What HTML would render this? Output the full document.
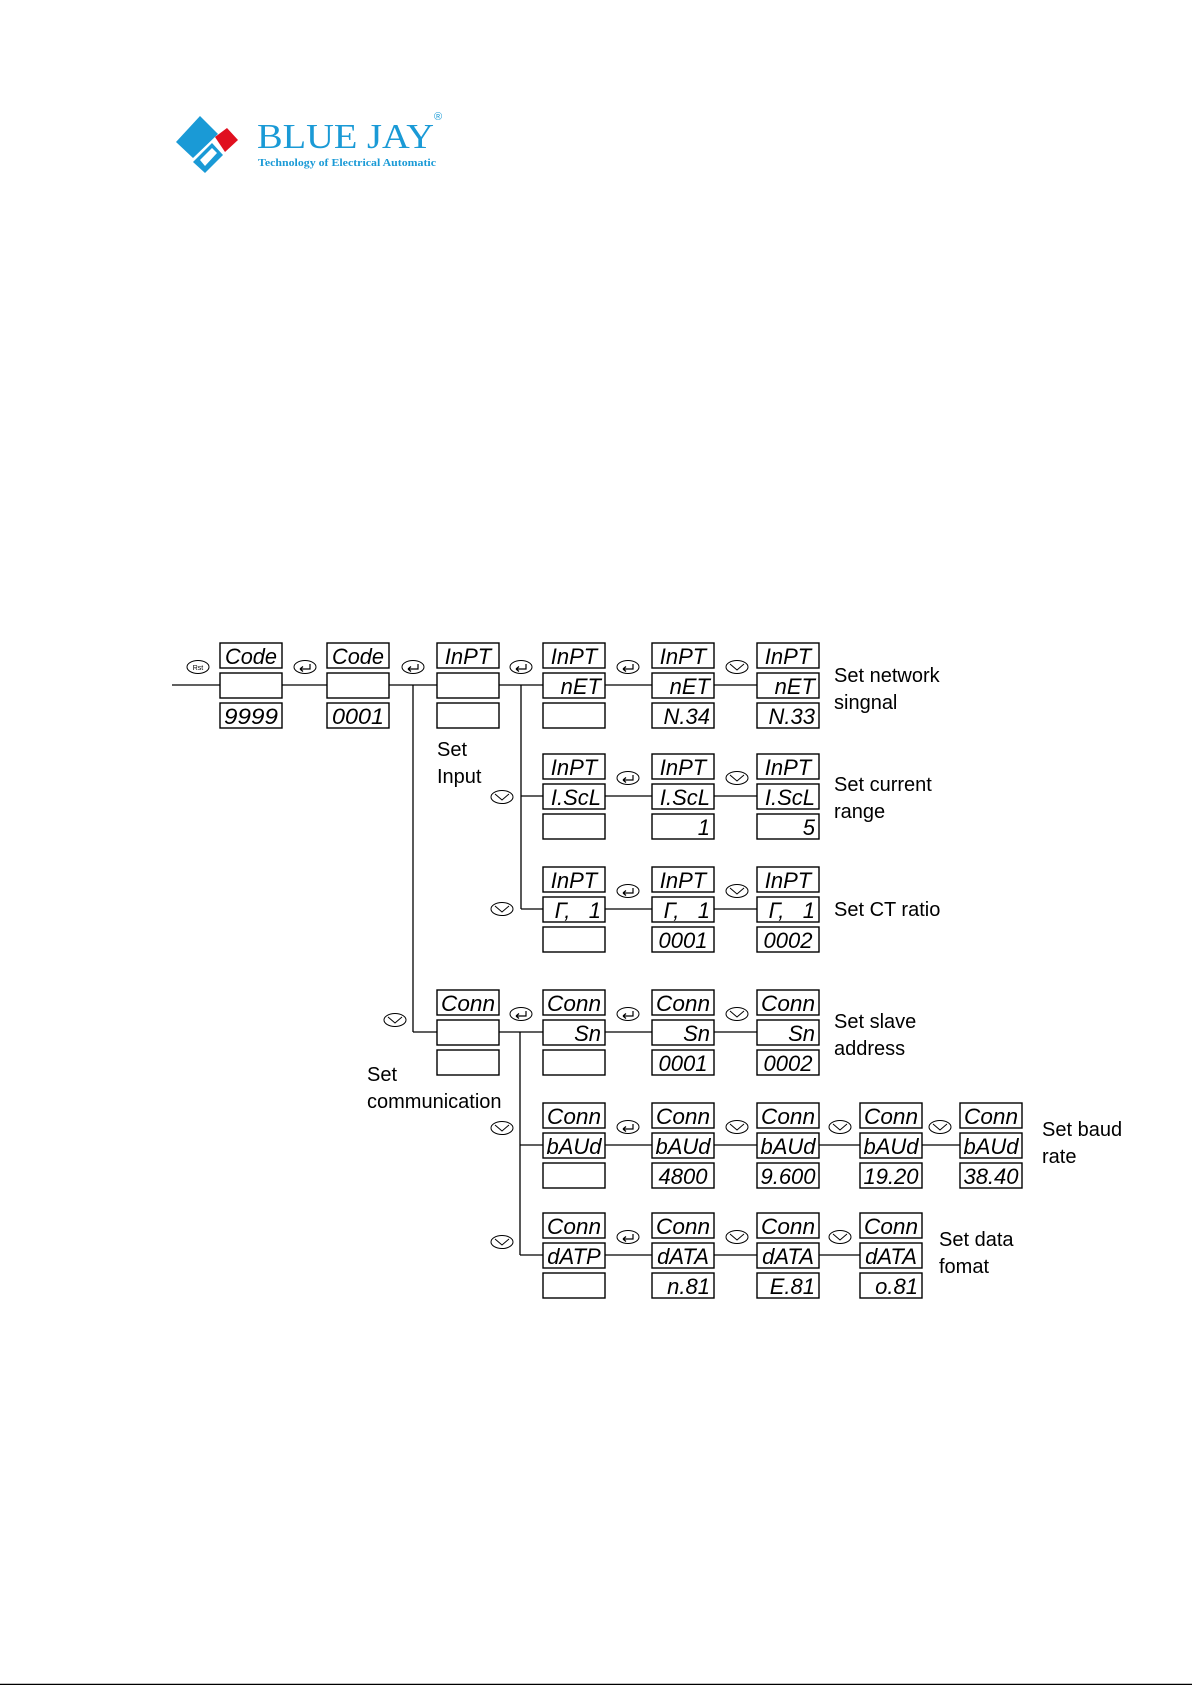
<!DOCTYPE html>
<html><head><meta charset="utf-8"><style>
html,body{margin:0;padding:0;background:#fff;}
svg{display:block}
.d{font-family:"Liberation Sans",sans-serif;font-style:italic;font-size:22px;fill:#000;}
.l{font-family:"Liberation Sans",sans-serif;font-size:20px;fill:#000;}
</style></head><body>
<svg width="1192" height="1685" viewBox="0 0 1192 1685" xmlns="http://www.w3.org/2000/svg">
<defs>
<g id="ent"><ellipse cx="0" cy="0" rx="11" ry="6.5" fill="#fff" stroke="#000" stroke-width="1"/><path d="M5 -3 V2 H-5 M-5 2 l3 -2.5 M-5 2 l3 2.5" fill="none" stroke="#000" stroke-width="1.2"/></g>
<g id="dn"><ellipse cx="0" cy="0" rx="11" ry="6.5" fill="#fff" stroke="#000" stroke-width="1"/><path d="M-7 -3 L0 3 L7 -3" fill="none" stroke="#000" stroke-width="1"/></g>
</defs>
<!-- logo -->
<polygon points="176,142 200,116 218,134 193,158" fill="#1a9ad6"/>
<polygon points="215,137 227,128 238,140 225,152" fill="#e0101f"/>
<polygon points="193,162 212,143 223,155 205,173" fill="#1a9ad6"/>
<polygon points="200,160 212,148 217,153 205,166" fill="#fff"/>
<text x="257" y="148" font-family="Liberation Serif,serif" font-size="35" fill="#1a9ad6" textLength="177" lengthAdjust="spacingAndGlyphs">BLUE JAY</text>
<text x="258" y="166" font-family="Liberation Serif,serif" font-size="10" font-weight="bold" fill="#1a9ad6" textLength="178" lengthAdjust="spacingAndGlyphs">Technology of Electrical Automatic</text>
<text x="434" y="120" font-family="Liberation Sans,sans-serif" font-size="11" fill="#1a9ad6">®</text>

<g stroke="#000" stroke-width="1.3" fill="none">
<line x1="172" y1="685" x2="757" y2="685"/>
<line x1="413" y1="685" x2="413" y2="1032"/>
<line x1="413" y1="1032" x2="437" y2="1032"/>
<line x1="521" y1="685" x2="521" y2="909"/>
<line x1="521" y1="796" x2="757" y2="796"/>
<line x1="521" y1="909" x2="757" y2="909"/>
<line x1="497" y1="1032" x2="757" y2="1032"/>
<line x1="520" y1="1032" x2="520" y2="1255"/>
<line x1="520" y1="1145" x2="960" y2="1145"/>
<line x1="520" y1="1255" x2="860" y2="1255"/>
</g>
<line x1="0" y1="1684.5" x2="1192" y2="1684.5" stroke="#000" stroke-width="1.5"/>

<g fill="#fff" stroke="#000" stroke-width="1.4">
<rect x="220" y="643" width="62" height="25"/><rect x="220" y="673" width="62" height="25"/><rect x="220" y="703" width="62" height="25"/>
<rect x="327" y="643" width="62" height="25"/><rect x="327" y="673" width="62" height="25"/><rect x="327" y="703" width="62" height="25"/>
<rect x="437" y="643" width="62" height="25"/><rect x="437" y="673" width="62" height="25"/><rect x="437" y="703" width="62" height="25"/>
<rect x="543" y="643" width="62" height="25"/><rect x="543" y="673" width="62" height="25"/><rect x="543" y="703" width="62" height="25"/>
<rect x="652" y="643" width="62" height="25"/><rect x="652" y="673" width="62" height="25"/><rect x="652" y="703" width="62" height="25"/>
<rect x="757" y="643" width="62" height="25"/><rect x="757" y="673" width="62" height="25"/><rect x="757" y="703" width="62" height="25"/>
<rect x="543" y="754" width="62" height="25"/><rect x="543" y="784" width="62" height="25"/><rect x="543" y="814" width="62" height="25"/>
<rect x="652" y="754" width="62" height="25"/><rect x="652" y="784" width="62" height="25"/><rect x="652" y="814" width="62" height="25"/>
<rect x="757" y="754" width="62" height="25"/><rect x="757" y="784" width="62" height="25"/><rect x="757" y="814" width="62" height="25"/>
<rect x="543" y="867" width="62" height="25"/><rect x="543" y="897" width="62" height="25"/><rect x="543" y="927" width="62" height="25"/>
<rect x="652" y="867" width="62" height="25"/><rect x="652" y="897" width="62" height="25"/><rect x="652" y="927" width="62" height="25"/>
<rect x="757" y="867" width="62" height="25"/><rect x="757" y="897" width="62" height="25"/><rect x="757" y="927" width="62" height="25"/>
<rect x="437" y="990" width="62" height="25"/><rect x="437" y="1020" width="62" height="25"/><rect x="437" y="1050" width="62" height="25"/>
<rect x="543" y="990" width="62" height="25"/><rect x="543" y="1020" width="62" height="25"/><rect x="543" y="1050" width="62" height="25"/>
<rect x="652" y="990" width="62" height="25"/><rect x="652" y="1020" width="62" height="25"/><rect x="652" y="1050" width="62" height="25"/>
<rect x="757" y="990" width="62" height="25"/><rect x="757" y="1020" width="62" height="25"/><rect x="757" y="1050" width="62" height="25"/>
<rect x="543" y="1103" width="62" height="25"/><rect x="543" y="1133" width="62" height="25"/><rect x="543" y="1163" width="62" height="25"/>
<rect x="652" y="1103" width="62" height="25"/><rect x="652" y="1133" width="62" height="25"/><rect x="652" y="1163" width="62" height="25"/>
<rect x="757" y="1103" width="62" height="25"/><rect x="757" y="1133" width="62" height="25"/><rect x="757" y="1163" width="62" height="25"/>
<rect x="860" y="1103" width="62" height="25"/><rect x="860" y="1133" width="62" height="25"/><rect x="860" y="1163" width="62" height="25"/>
<rect x="960" y="1103" width="62" height="25"/><rect x="960" y="1133" width="62" height="25"/><rect x="960" y="1163" width="62" height="25"/>
<rect x="543" y="1213" width="62" height="25"/><rect x="543" y="1243" width="62" height="25"/><rect x="543" y="1273" width="62" height="25"/>
<rect x="652" y="1213" width="62" height="25"/><rect x="652" y="1243" width="62" height="25"/><rect x="652" y="1273" width="62" height="25"/>
<rect x="757" y="1213" width="62" height="25"/><rect x="757" y="1243" width="62" height="25"/><rect x="757" y="1273" width="62" height="25"/>
<rect x="860" y="1213" width="62" height="25"/><rect x="860" y="1243" width="62" height="25"/><rect x="860" y="1273" width="62" height="25"/>
</g>

<g class="d" text-anchor="middle">
<text x="251" y="664" textLength="52" lengthAdjust="spacingAndGlyphs">Code</text>
<text x="251" y="724" textLength="54" lengthAdjust="spacingAndGlyphs">9999</text>
<text x="358" y="664" textLength="52" lengthAdjust="spacingAndGlyphs">Code</text>
<text x="358" y="724" textLength="52" lengthAdjust="spacingAndGlyphs">0001</text>
<text x="468" y="664">InPT</text>
<text x="574" y="664">InPT</text><text x="683" y="664">InPT</text><text x="788" y="664">InPT</text>
<text x="574" y="775">InPT</text><text x="683" y="775">InPT</text><text x="788" y="775">InPT</text>
<text x="574" y="888">InPT</text><text x="683" y="888">InPT</text><text x="788" y="888">InPT</text>
<text x="683" y="948">0001</text><text x="788" y="948">0002</text>
<text x="468" y="1011" textLength="54" lengthAdjust="spacingAndGlyphs">Conn</text>
<text x="574" y="1011" textLength="54" lengthAdjust="spacingAndGlyphs">Conn</text>
<text x="683" y="1011" textLength="54" lengthAdjust="spacingAndGlyphs">Conn</text>
<text x="788" y="1011" textLength="54" lengthAdjust="spacingAndGlyphs">Conn</text>
<text x="683" y="1071">0001</text><text x="788" y="1071">0002</text>
<text x="574" y="1124" textLength="54" lengthAdjust="spacingAndGlyphs">Conn</text>
<text x="683" y="1124" textLength="54" lengthAdjust="spacingAndGlyphs">Conn</text>
<text x="788" y="1124" textLength="54" lengthAdjust="spacingAndGlyphs">Conn</text>
<text x="891" y="1124" textLength="54" lengthAdjust="spacingAndGlyphs">Conn</text>
<text x="991" y="1124" textLength="54" lengthAdjust="spacingAndGlyphs">Conn</text>
<text x="574" y="1154">bAUd</text><text x="683" y="1154">bAUd</text><text x="788" y="1154">bAUd</text><text x="891" y="1154">bAUd</text><text x="991" y="1154">bAUd</text>
<text x="683" y="1184">4800</text><text x="788" y="1184">9.600</text><text x="891" y="1184">19.20</text><text x="991" y="1184">38.40</text>
<text x="574" y="1234" textLength="54" lengthAdjust="spacingAndGlyphs">Conn</text>
<text x="683" y="1234" textLength="54" lengthAdjust="spacingAndGlyphs">Conn</text>
<text x="788" y="1234" textLength="54" lengthAdjust="spacingAndGlyphs">Conn</text>
<text x="891" y="1234" textLength="54" lengthAdjust="spacingAndGlyphs">Conn</text>
<text x="574" y="1264">dATP</text><text x="683" y="1264">dATA</text><text x="788" y="1264">dATA</text><text x="891" y="1264">dATA</text>
</g>
<g class="d" text-anchor="end">
<text x="601" y="694">nET</text><text x="710" y="694">nET</text><text x="815" y="694">nET</text>
<text x="710" y="724">N.34</text><text x="815" y="724">N.33</text>
<text x="601" y="805">I.ScL</text><text x="710" y="805">I.ScL</text><text x="815" y="805">I.ScL</text>
<text x="710" y="835">1</text><text x="815" y="835">5</text>
<text x="601" y="918">Γ,&#160;&#160;&#160;1</text><text x="710" y="918">Γ,&#160;&#160;&#160;1</text><text x="815" y="918">Γ,&#160;&#160;&#160;1</text>
<text x="601" y="1041">Sn</text><text x="710" y="1041">Sn</text><text x="815" y="1041">Sn</text>
<text x="710" y="1294">n.81</text><text x="815" y="1294">E.81</text><text x="918" y="1294">o.81</text>
</g>

<g transform="translate(198,667)"><ellipse rx="11" ry="6.5" fill="#fff" stroke="#000"/><text x="0" y="3" font-family="Liberation Sans,sans-serif" font-size="7" text-anchor="middle">Rst</text></g>
<use href="#ent" x="305" y="667"/><use href="#ent" x="413" y="667"/><use href="#ent" x="521" y="667"/><use href="#ent" x="628" y="667"/><use href="#dn" x="737" y="667"/>
<use href="#ent" x="628" y="778"/><use href="#dn" x="737" y="778"/>
<use href="#ent" x="628" y="891"/><use href="#dn" x="737" y="891"/>
<use href="#ent" x="521" y="1014"/><use href="#ent" x="628" y="1014"/><use href="#dn" x="737" y="1014"/>
<use href="#ent" x="628" y="1127"/><use href="#dn" x="737" y="1127"/><use href="#dn" x="840" y="1127"/><use href="#dn" x="940" y="1127"/>
<use href="#ent" x="628" y="1237"/><use href="#dn" x="737" y="1237"/><use href="#dn" x="840" y="1237"/>
<use href="#dn" x="502" y="797"/><use href="#dn" x="502" y="909"/><use href="#dn" x="395" y="1020"/><use href="#dn" x="502" y="1128"/><use href="#dn" x="502" y="1242"/>

<g class="l">
<text x="834" y="682">Set network</text><text x="834" y="709">singnal</text>
<text x="437" y="756">Set</text><text x="437" y="783">Input</text>
<text x="834" y="791">Set current</text><text x="834" y="818">range</text>
<text x="834" y="916">Set CT ratio</text>
<text x="834" y="1028">Set slave</text><text x="834" y="1055">address</text>
<text x="367" y="1081">Set</text><text x="367" y="1108">communication</text>
<text x="1042" y="1136">Set baud</text><text x="1042" y="1163">rate</text>
<text x="939" y="1246">Set data</text><text x="939" y="1273">fomat</text>
</g>
</svg>
</body></html>
